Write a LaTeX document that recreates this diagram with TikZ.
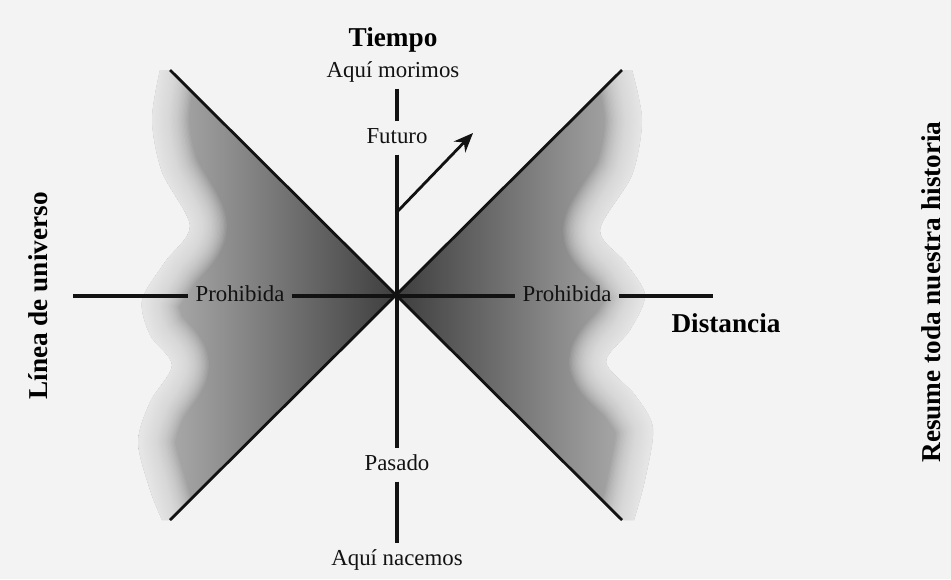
\documentclass[tikz,border=0pt]{standalone}
\usepackage{fontspec}
\setmainfont{Liberation Serif}
\usetikzlibrary{arrows.meta, positioning, calc}
\definecolor{mybg}{RGB}{243,243,243}
\definecolor{mydark}{RGB}{18,18,18}
\definecolor{coneinner}{RGB}{62,62,62}
\definecolor{coneouter}{RGB}{200,200,200}
\tikzset{
  lbl/.style={font=\fontsize{13}{15}\selectfont, text=mydark,
    inner xsep=4pt, inner ysep=3.5pt, text height=9pt, text depth=2.5pt},
  axtitle/.style={font=\fontsize{15.5}{18}\selectfont\bfseries, text=black},
  sidetitle/.style={axtitle, rotate=90},
  axisline/.style={line width=1.8pt, color=mydark},
  coneline/.style={line width=1.6pt, color=mydark},
  arrow/.style={-{Stealth[length=11pt, width=9pt]}, line width=1.6pt, color=mydark},
  blur/.style={mybg, opacity=0.07, line cap=round, line join=round}
}

\begin{document}
\begin{tikzpicture}[x=0.02cm, y=-0.02cm]
  % --- BACKGROUND ---
  \fill[mybg] (0,0) rectangle (951,579);
  \path[use as bounding box] (0,0) rectangle (951,579);

  % --- FORBIDDEN ZONE, LEFT ---
  \begin{scope}
    \clip (396,296) -- (170,70) -- plot[smooth] coordinates {(160,70) (152,120) (162,172) (190,226) (165,262) (142,300) (150,335) (172,365) (150,402) (138,442) (150,490) (162,520)} -- (170,520) -- cycle;
    \shade[left color=coneouter, right color=coneinner] (105,60) rectangle (396,530);
    \foreach \w in {1.5,3,...,42}
      \draw[blur, line width=\w pt] plot[smooth] coordinates {(160,62) (152,120) (162,172) (190,226) (165,262) (142,300) (150,335) (172,365) (150,402) (138,442) (150,490) (162,528)};
  \end{scope}

  % --- FORBIDDEN ZONE, RIGHT ---
  \begin{scope}
    \clip (396,296) -- (622,70) -- plot[smooth] coordinates {(632,70) (642,120) (632,175) (600,230) (625,262) (645,295) (630,330) (606,362) (635,395) (653,428) (645,480) (634,520)} -- (622,520) -- cycle;
    \shade[left color=coneinner, right color=coneouter] (396,60) rectangle (690,530);
    \foreach \w in {1.5,3,...,42}
      \draw[blur, line width=\w pt] plot[smooth] coordinates {(632,62) (642,120) (632,175) (600,230) (625,262) (645,295) (630,330) (606,362) (635,395) (653,428) (645,480) (634,528)};
  \end{scope}

  % --- LIGHT CONE EDGES ---
  \coordinate (tl) at (170,70);
  \coordinate (tr) at (622,70);
  \coordinate (bl) at (170,520);
  \coordinate (br) at (622,520);
  \draw[coneline] (tl) -- (br);
  \draw[coneline] (tr) -- (bl);

  % --- LABELS ---
  \node[axtitle] (tiempo) at (393,40) {Tiempo};
  \node[lbl] (morimos) at (393,72) {Aquí morimos};
  \node[lbl] (futuro) at (397,138) {Futuro};
  \node[lbl] (pasado) at (397,465) {Pasado};
  \node[lbl] (nacemos) at (397,560) {Aquí nacemos};
  \node[lbl] (probL) at (240,296) {Prohibida};
  \node[lbl] (probR) at (567,296) {Prohibida};
  \node[axtitle] (distancia) at (726,323) {Distancia};
  \node[sidetitle] (worldline) at (38,296) {Línea de universo};
  \node[sidetitle] (summary) at (931,292) {Resume toda nuestra historia};

  % --- AXES ---
  \coordinate (xleft) at (73,296);
  \coordinate (xright) at (713,296);
  \draw[axisline] (futuro.north |- morimos.south) -- (futuro.north);
  \draw[axisline] (futuro.south) -- (pasado.north);
  \draw[axisline] (pasado.south) -- (pasado.south |- nacemos.north);
  \draw[axisline] (xleft) -- (probL.west);
  \draw[axisline] (probL.east) -- (probR.west);
  \draw[axisline] (probR.east) -- (xright);

  % --- WORLD LINE ARROW ---
  \coordinate (arrowfoot) at (397,212);
  \coordinate (arrowtip) at (473,133);
  \draw[arrow] (arrowfoot) -- (arrowtip);
\end{tikzpicture}
\end{document}
